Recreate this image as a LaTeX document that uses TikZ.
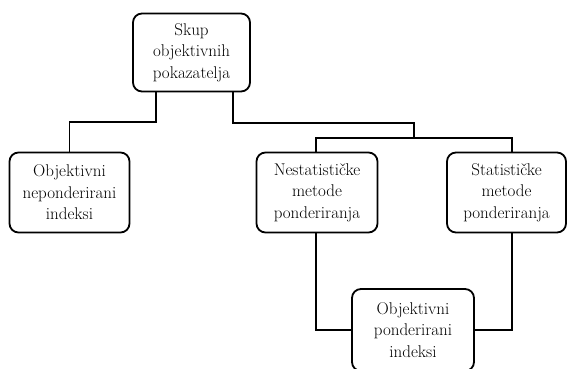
\documentclass[tikz,border=0pt]{standalone}
\usepackage{fontspec}
\usepackage{tikz}
\usetikzlibrary{positioning}

\begin{document}
\begin{tikzpicture}[x=1pt, y=-1pt,
    box/.style={draw, line width=1.8pt, rounded corners=9pt, align=center,
                inner sep=0pt, font=\fontsize{17}{21.5}\selectfont},
    link/.style={line width=1.8pt}]
    \useasboundingbox (0,0) rectangle (567,369);
    % nodes
    \node[box, minimum width=117pt, minimum height=78pt] (skup) at (191.5,52.5)
        {Skup\\objektivnih\\pokazatelja};
    \node[box, minimum width=120pt, minimum height=80pt] (neponder) at (69.5,192.5)
        {Objektivni\\neponderirani\\indeksi};
    \node[box, minimum width=121pt, minimum height=80pt] (nestat) at (317,192.5)
        {Nestatističke\\metode\\ponderiranja};
    \node[box, minimum width=119pt, minimum height=80pt] (stat) at (506.5,192.5)
        {Statističke\\metode\\ponderiranja};
    \node[box, minimum width=122pt, minimum height=82pt] (ponder) at (413,330)
        {Objektivni\\ponderirani\\indeksi};
    % connectors
    \coordinate (split) at (414,138);
    \draw[link] ([xshift=-35.5pt]skup.south) |- ([yshift=29.5pt]neponder.north) -- (neponder.north);
    \draw[link] ([xshift=41.5pt]skup.south) |- ([yshift=15pt]split) -- (split);
    \draw[link] ([xshift=-1pt]nestat.north) |- (split) -| ([xshift=5.5pt]stat.north);
    \draw[link] ([xshift=-1pt]nestat.south) |- (ponder.west);
    \draw[link] ([xshift=5.5pt]stat.south) |- (ponder.east);
\end{tikzpicture}
\end{document}
